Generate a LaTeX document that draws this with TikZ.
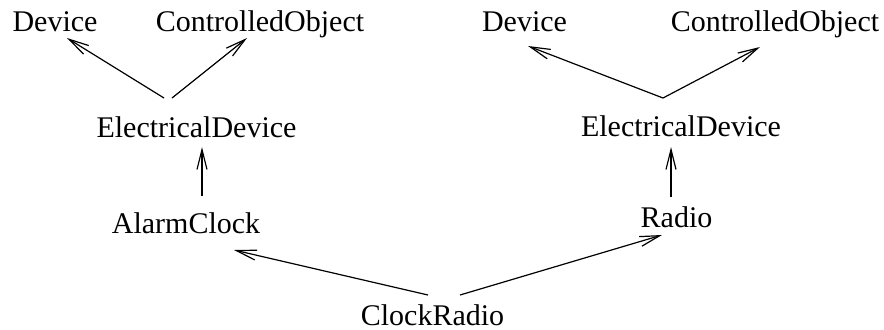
\documentclass[tikz,border=0pt]{standalone}
\usepackage{fontspec}
\setmainfont{Liberation Serif}
\usetikzlibrary{arrows.meta}
\begin{document}
\begin{tikzpicture}[x=0.5pt,y=-0.5pt,line width=0.6pt,
  cls/.style={anchor=base,inner sep=0pt,font=\fontsize{15}{18}\selectfont},
  isa/.style={-{Straight Barb[length=10pt,width=5pt]}}]
\useasboundingbox (0,0) rectangle (884,329);

%left
\node [cls] (dev1) at (55,31) {Device};
\node [cls] (co1) at (260,31) {ControlledObject};
\node [cls] (ed1) at (196.5,137) {ElectricalDevice};
\node [cls] (ac) at (186,233) {AlarmClock};

%right
\node [cls] (dev2) at (524.5,31) {Device};
\node [cls] (co2) at (775,31) {ControlledObject};
\node [cls] (ed2) at (681,136) {ElectricalDevice};
\node [cls] (rad) at (676.5,227) {Radio};

\node [cls] (cr) at (432.5,325) {ClockRadio};

\draw [isa] ([shift={(-32.5,-39)}]ed1.base) -- ([shift={(12,7)}]dev1.base);
\draw [isa] ([shift={(-24.5,-39)}]ed1.base) -- ([shift={(-13,7)}]co1.base);
\draw [isa] ([shift={(16,-37)}]ac.base) -- ([shift={(5.5,10)}]ed1.base);

\draw [isa] ([shift={(-18,-38)}]ed2.base) -- ([shift={(3.5,15)}]dev2.base);
\draw [isa] ([shift={(-18,-38)}]ed2.base) -- ([shift={(-15,16)}]co2.base);
\draw [isa] ([shift={(-5.5,-30)}]rad.base) -- ([shift={(-10,11)}]ed2.base);

\draw [isa] ([shift={(-4.5,-30)}]cr.base) -- ([shift={(48,17)}]ac.base);
\draw [isa] ([shift={(27.5,-30)}]cr.base) -- ([shift={(-14.5,8)}]rad.base);
\end{tikzpicture}
\end{document}
